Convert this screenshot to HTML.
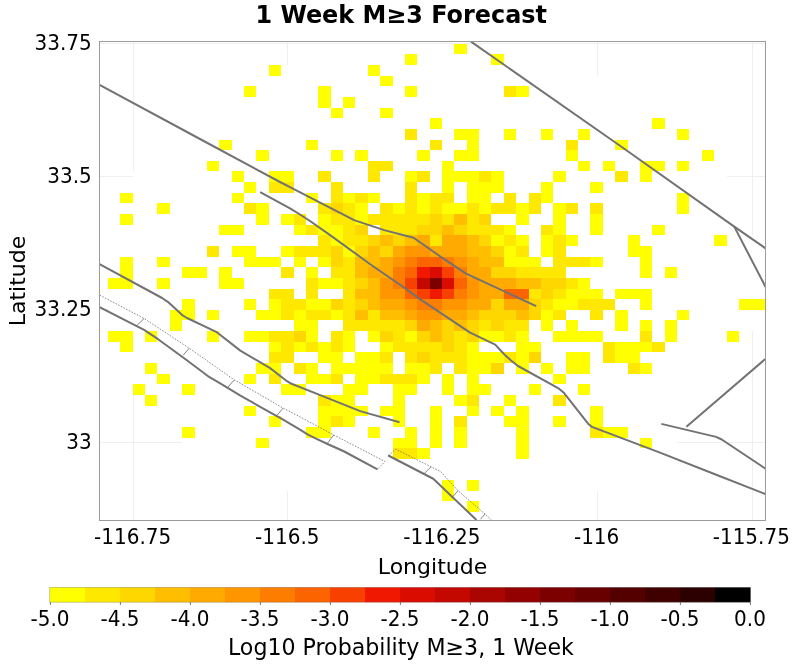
<!DOCTYPE html>
<html><head><meta charset="utf-8"><title>1 Week M≥3 Forecast</title>
<style>
html,body{margin:0;padding:0;background:#fff}
body{width:800px;height:668px;overflow:hidden;font-family:"DejaVu Sans","Liberation Sans",sans-serif}
svg{display:block}
text{font-family:"DejaVu Sans","Liberation Sans",sans-serif;fill:#000}
.tk{font-size:20px}
.ax{font-size:22px}
.ttl{font-size:23.9px;font-weight:bold}
</style></head><body>
<svg width="800" height="668" viewBox="0 0 800 668">
<rect width="800" height="668" fill="#fff"/>
<defs><clipPath id="pc"><rect x="100" y="42" width="665" height="478"/></clipPath></defs>

<g clip-path="url(#pc)">
<g stroke="#efefef" stroke-width="1" shape-rendering="crispEdges">
<line x1="133.5" y1="42" x2="133.5" y2="520"/>
<line x1="287.5" y1="42" x2="287.5" y2="520"/>
<line x1="442.5" y1="42" x2="442.5" y2="520"/>
<line x1="597.5" y1="42" x2="597.5" y2="520"/>
<line x1="752.5" y1="42" x2="752.5" y2="520"/>
<line x1="100" y1="43.5" x2="765" y2="43.5"/>
<line x1="100" y1="176.5" x2="765" y2="176.5"/>
<line x1="100" y1="309.5" x2="765" y2="309.5"/>
<line x1="100" y1="442.5" x2="765" y2="442.5"/>
</g>
<g fill="#fff" shape-rendering="crispEdges">
<rect x="355" y="44" width="161" height="10"/>
<rect x="306" y="54" width="260" height="11"/>
<rect x="281" y="65" width="309" height="11"/>
<rect x="256" y="76" width="359" height="10"/>
<rect x="232" y="86" width="408" height="11"/>
<rect x="219" y="97" width="433" height="11"/>
<rect x="195" y="108" width="470" height="10"/>
<rect x="182" y="118" width="507" height="11"/>
<rect x="170" y="129" width="519" height="11"/>
<rect x="157" y="140" width="545" height="10"/>
<rect x="157" y="150" width="557" height="11"/>
<rect x="145" y="161" width="582" height="10"/>
<rect x="133" y="171" width="594" height="11"/>
<rect x="133" y="182" width="606" height="11"/>
<rect x="120" y="193" width="619" height="10"/>
<rect x="120" y="203" width="631" height="11"/>
<rect x="120" y="214" width="631" height="11"/>
<rect x="108" y="225" width="643" height="10"/>
<rect x="108" y="235" width="656" height="11"/>
<rect x="108" y="246" width="656" height="11"/>
<rect x="108" y="257" width="656" height="10"/>
<rect x="108" y="267" width="656" height="11"/>
<rect x="108" y="278" width="656" height="11"/>
<rect x="108" y="289" width="656" height="10"/>
<rect x="108" y="299" width="656" height="11"/>
<rect x="108" y="310" width="656" height="10"/>
<rect x="108" y="320" width="656" height="11"/>
<rect x="108" y="331" width="643" height="11"/>
<rect x="120" y="342" width="631" height="10"/>
<rect x="120" y="352" width="631" height="11"/>
<rect x="133" y="363" width="606" height="11"/>
<rect x="133" y="374" width="606" height="10"/>
<rect x="145" y="384" width="582" height="11"/>
<rect x="145" y="395" width="569" height="11"/>
<rect x="157" y="406" width="557" height="10"/>
<rect x="170" y="416" width="532" height="11"/>
<rect x="182" y="427" width="507" height="11"/>
<rect x="182" y="438" width="495" height="10"/>
<rect x="207" y="448" width="445" height="11"/>
<rect x="232" y="459" width="408" height="11"/>
<rect x="244" y="470" width="371" height="10"/>
<rect x="269" y="480" width="334" height="11"/>
<rect x="306" y="491" width="260" height="10"/>
<rect x="343" y="501" width="186" height="11"/>
<rect x="393" y="512" width="98" height="11"/>
</g>
<g shape-rendering="crispEdges">
<rect x="454" y="44" width="13" height="10" fill="#FFFF00"/>
<rect x="405" y="54" width="12" height="11" fill="#FFFF00"/>
<rect x="491" y="54" width="13" height="11" fill="#FFFF00"/>
<rect x="269" y="65" width="12" height="11" fill="#FFFF00"/>
<rect x="368" y="65" width="12" height="11" fill="#FFFF00"/>
<rect x="380" y="76" width="13" height="10" fill="#FFFF00"/>
<rect x="244" y="86" width="12" height="11" fill="#FFFF00"/>
<rect x="318" y="86" width="13" height="11" fill="#FFFF00"/>
<rect x="405" y="86" width="12" height="11" fill="#FFFF00"/>
<rect x="504" y="86" width="12" height="11" fill="#FFE800"/>
<rect x="516" y="86" width="13" height="11" fill="#FFFF00"/>
<rect x="318" y="97" width="13" height="11" fill="#FFFF00"/>
<rect x="343" y="97" width="12" height="11" fill="#FFFF00"/>
<rect x="331" y="108" width="12" height="10" fill="#FFFF00"/>
<rect x="380" y="108" width="13" height="10" fill="#FFFF00"/>
<rect x="430" y="118" width="12" height="11" fill="#FFFF00"/>
<rect x="652" y="118" width="13" height="11" fill="#FFFF00"/>
<rect x="405" y="129" width="12" height="11" fill="#FFE800"/>
<rect x="454" y="129" width="25" height="11" fill="#FFFF00"/>
<rect x="504" y="129" width="12" height="11" fill="#FFFF00"/>
<rect x="541" y="129" width="12" height="11" fill="#FFFF00"/>
<rect x="578" y="129" width="12" height="11" fill="#FFFF00"/>
<rect x="677" y="129" width="12" height="11" fill="#FFFF00"/>
<rect x="219" y="140" width="13" height="10" fill="#FFFF00"/>
<rect x="306" y="140" width="12" height="10" fill="#FFFF00"/>
<rect x="430" y="140" width="12" height="10" fill="#FFE800"/>
<rect x="467" y="140" width="12" height="10" fill="#FFFF00"/>
<rect x="566" y="140" width="12" height="10" fill="#FFE800"/>
<rect x="615" y="140" width="13" height="10" fill="#FFFF00"/>
<rect x="256" y="150" width="13" height="11" fill="#FFFF00"/>
<rect x="331" y="150" width="12" height="11" fill="#FFFF00"/>
<rect x="355" y="150" width="13" height="11" fill="#FFFF00"/>
<rect x="417" y="150" width="13" height="11" fill="#FFFF00"/>
<rect x="454" y="150" width="25" height="11" fill="#FFFF00"/>
<rect x="566" y="150" width="12" height="11" fill="#FFFF00"/>
<rect x="702" y="150" width="12" height="11" fill="#FFFF00"/>
<rect x="207" y="161" width="12" height="10" fill="#FFFF00"/>
<rect x="368" y="161" width="25" height="10" fill="#FFE800"/>
<rect x="442" y="161" width="12" height="10" fill="#FFFF00"/>
<rect x="578" y="161" width="12" height="10" fill="#FFFF00"/>
<rect x="603" y="161" width="12" height="10" fill="#FFFF00"/>
<rect x="640" y="161" width="25" height="10" fill="#FFFF00"/>
<rect x="677" y="161" width="12" height="10" fill="#FFFF00"/>
<rect x="232" y="171" width="12" height="11" fill="#FFFF00"/>
<rect x="269" y="171" width="25" height="11" fill="#FFFF00"/>
<rect x="318" y="171" width="13" height="11" fill="#FFE800"/>
<rect x="368" y="171" width="12" height="11" fill="#FFE800"/>
<rect x="405" y="171" width="12" height="11" fill="#FFFF00"/>
<rect x="417" y="171" width="13" height="11" fill="#FFE800"/>
<rect x="442" y="171" width="37" height="11" fill="#FFFF00"/>
<rect x="479" y="171" width="12" height="11" fill="#FFE800"/>
<rect x="491" y="171" width="13" height="11" fill="#FFFF00"/>
<rect x="553" y="171" width="13" height="11" fill="#FFFF00"/>
<rect x="615" y="171" width="13" height="11" fill="#FFE800"/>
<rect x="640" y="171" width="12" height="11" fill="#FFFF00"/>
<rect x="244" y="182" width="12" height="11" fill="#FFFF00"/>
<rect x="269" y="182" width="25" height="11" fill="#FFE800"/>
<rect x="331" y="182" width="12" height="11" fill="#FFE800"/>
<rect x="405" y="182" width="12" height="11" fill="#FFE800"/>
<rect x="442" y="182" width="12" height="11" fill="#FFFF00"/>
<rect x="467" y="182" width="37" height="11" fill="#FFFF00"/>
<rect x="541" y="182" width="12" height="11" fill="#FFFF00"/>
<rect x="590" y="182" width="13" height="11" fill="#FFFF00"/>
<rect x="120" y="193" width="13" height="10" fill="#FFFF00"/>
<rect x="232" y="193" width="12" height="10" fill="#FFFF00"/>
<rect x="306" y="193" width="12" height="10" fill="#FFFF00"/>
<rect x="331" y="193" width="12" height="10" fill="#FFE800"/>
<rect x="343" y="193" width="12" height="10" fill="#FFFF00"/>
<rect x="355" y="193" width="13" height="10" fill="#FFE800"/>
<rect x="368" y="193" width="12" height="10" fill="#FFFF00"/>
<rect x="405" y="193" width="12" height="10" fill="#FFE800"/>
<rect x="417" y="193" width="13" height="10" fill="#FFFF00"/>
<rect x="430" y="193" width="24" height="10" fill="#FFE800"/>
<rect x="467" y="193" width="24" height="10" fill="#FFFF00"/>
<rect x="504" y="193" width="12" height="10" fill="#FFE800"/>
<rect x="529" y="193" width="12" height="10" fill="#FFE800"/>
<rect x="541" y="193" width="12" height="10" fill="#FFFF00"/>
<rect x="677" y="193" width="12" height="10" fill="#FFFF00"/>
<rect x="157" y="203" width="13" height="11" fill="#FFFF00"/>
<rect x="244" y="203" width="12" height="11" fill="#FFE800"/>
<rect x="256" y="203" width="13" height="11" fill="#FFFF00"/>
<rect x="318" y="203" width="13" height="11" fill="#FFE800"/>
<rect x="331" y="203" width="12" height="11" fill="#FFD700"/>
<rect x="343" y="203" width="12" height="11" fill="#FFE800"/>
<rect x="355" y="203" width="13" height="11" fill="#FFFF00"/>
<rect x="380" y="203" width="13" height="11" fill="#FFE800"/>
<rect x="393" y="203" width="12" height="11" fill="#FFFF00"/>
<rect x="405" y="203" width="12" height="11" fill="#FFE800"/>
<rect x="417" y="203" width="13" height="11" fill="#FFFF00"/>
<rect x="430" y="203" width="12" height="11" fill="#FFE800"/>
<rect x="442" y="203" width="25" height="11" fill="#FFFF00"/>
<rect x="467" y="203" width="12" height="11" fill="#FFE800"/>
<rect x="479" y="203" width="12" height="11" fill="#FFFF00"/>
<rect x="491" y="203" width="25" height="11" fill="#FFE800"/>
<rect x="516" y="203" width="13" height="11" fill="#FFFF00"/>
<rect x="529" y="203" width="12" height="11" fill="#FFE800"/>
<rect x="553" y="203" width="13" height="11" fill="#FFFF00"/>
<rect x="566" y="203" width="12" height="11" fill="#FFE800"/>
<rect x="590" y="203" width="13" height="11" fill="#FFE800"/>
<rect x="677" y="203" width="12" height="11" fill="#FFFF00"/>
<rect x="120" y="214" width="13" height="11" fill="#FFFF00"/>
<rect x="256" y="214" width="13" height="11" fill="#FFFF00"/>
<rect x="281" y="214" width="13" height="11" fill="#FFFF00"/>
<rect x="294" y="214" width="12" height="11" fill="#FFE800"/>
<rect x="318" y="214" width="13" height="11" fill="#FFFF00"/>
<rect x="331" y="214" width="24" height="11" fill="#FFE800"/>
<rect x="355" y="214" width="13" height="11" fill="#FFFF00"/>
<rect x="368" y="214" width="62" height="11" fill="#FFE800"/>
<rect x="430" y="214" width="12" height="11" fill="#FFD700"/>
<rect x="442" y="214" width="12" height="11" fill="#FFE800"/>
<rect x="454" y="214" width="13" height="11" fill="#FFBE00"/>
<rect x="467" y="214" width="12" height="11" fill="#FFE800"/>
<rect x="479" y="214" width="12" height="11" fill="#FFD700"/>
<rect x="516" y="214" width="13" height="11" fill="#FFFF00"/>
<rect x="553" y="214" width="13" height="11" fill="#FFFF00"/>
<rect x="590" y="214" width="13" height="11" fill="#FFFF00"/>
<rect x="219" y="225" width="25" height="10" fill="#FFFF00"/>
<rect x="294" y="225" width="12" height="10" fill="#FFFF00"/>
<rect x="306" y="225" width="12" height="10" fill="#FFE800"/>
<rect x="318" y="225" width="25" height="10" fill="#FFFF00"/>
<rect x="343" y="225" width="12" height="10" fill="#FFE800"/>
<rect x="355" y="225" width="13" height="10" fill="#FFD700"/>
<rect x="380" y="225" width="37" height="10" fill="#FFE800"/>
<rect x="417" y="225" width="25" height="10" fill="#FFD700"/>
<rect x="442" y="225" width="12" height="10" fill="#FFBE00"/>
<rect x="454" y="225" width="13" height="10" fill="#FFD700"/>
<rect x="467" y="225" width="37" height="10" fill="#FFE800"/>
<rect x="504" y="225" width="12" height="10" fill="#FFFF00"/>
<rect x="541" y="225" width="12" height="10" fill="#FFE800"/>
<rect x="553" y="225" width="13" height="10" fill="#FFFF00"/>
<rect x="590" y="225" width="13" height="10" fill="#FFFF00"/>
<rect x="652" y="225" width="13" height="10" fill="#FFFF00"/>
<rect x="318" y="235" width="13" height="11" fill="#FFE800"/>
<rect x="331" y="235" width="12" height="11" fill="#FFFF00"/>
<rect x="343" y="235" width="25" height="11" fill="#FFE800"/>
<rect x="368" y="235" width="12" height="11" fill="#FFD700"/>
<rect x="380" y="235" width="13" height="11" fill="#FFBE00"/>
<rect x="393" y="235" width="12" height="11" fill="#FFD700"/>
<rect x="405" y="235" width="12" height="11" fill="#FFBE00"/>
<rect x="417" y="235" width="13" height="11" fill="#FFAA00"/>
<rect x="430" y="235" width="12" height="11" fill="#FFE800"/>
<rect x="442" y="235" width="25" height="11" fill="#FFAA00"/>
<rect x="467" y="235" width="12" height="11" fill="#FFBE00"/>
<rect x="479" y="235" width="12" height="11" fill="#FFD700"/>
<rect x="491" y="235" width="13" height="11" fill="#FFFF00"/>
<rect x="504" y="235" width="12" height="11" fill="#FFE800"/>
<rect x="516" y="235" width="13" height="11" fill="#FFFF00"/>
<rect x="541" y="235" width="12" height="11" fill="#FFFF00"/>
<rect x="553" y="235" width="13" height="11" fill="#FFE800"/>
<rect x="566" y="235" width="12" height="11" fill="#FFFF00"/>
<rect x="628" y="235" width="12" height="11" fill="#FFFF00"/>
<rect x="714" y="235" width="13" height="11" fill="#FFFF00"/>
<rect x="207" y="246" width="12" height="11" fill="#FFE800"/>
<rect x="232" y="246" width="24" height="11" fill="#FFFF00"/>
<rect x="281" y="246" width="13" height="11" fill="#FFFF00"/>
<rect x="294" y="246" width="37" height="11" fill="#FFE800"/>
<rect x="331" y="246" width="12" height="11" fill="#FFD700"/>
<rect x="343" y="246" width="12" height="11" fill="#FFFF00"/>
<rect x="355" y="246" width="13" height="11" fill="#FFD700"/>
<rect x="368" y="246" width="12" height="11" fill="#FFBE00"/>
<rect x="380" y="246" width="13" height="11" fill="#FFD700"/>
<rect x="393" y="246" width="12" height="11" fill="#FFAA00"/>
<rect x="405" y="246" width="25" height="11" fill="#FF9600"/>
<rect x="430" y="246" width="37" height="11" fill="#FFAA00"/>
<rect x="467" y="246" width="24" height="11" fill="#FFBE00"/>
<rect x="491" y="246" width="13" height="11" fill="#FFD700"/>
<rect x="504" y="246" width="12" height="11" fill="#FFFF00"/>
<rect x="516" y="246" width="13" height="11" fill="#FFE800"/>
<rect x="541" y="246" width="12" height="11" fill="#FFFF00"/>
<rect x="553" y="246" width="13" height="11" fill="#FFE800"/>
<rect x="628" y="246" width="24" height="11" fill="#FFFF00"/>
<rect x="120" y="257" width="13" height="10" fill="#FFFF00"/>
<rect x="157" y="257" width="13" height="10" fill="#FFFF00"/>
<rect x="244" y="257" width="37" height="10" fill="#FFFF00"/>
<rect x="294" y="257" width="12" height="10" fill="#FFFF00"/>
<rect x="318" y="257" width="13" height="10" fill="#FFFF00"/>
<rect x="331" y="257" width="12" height="10" fill="#FFD700"/>
<rect x="343" y="257" width="12" height="10" fill="#FFE800"/>
<rect x="355" y="257" width="25" height="10" fill="#FFBE00"/>
<rect x="380" y="257" width="13" height="10" fill="#FFAA00"/>
<rect x="393" y="257" width="12" height="10" fill="#FF9600"/>
<rect x="405" y="257" width="12" height="10" fill="#FD7D00"/>
<rect x="417" y="257" width="25" height="10" fill="#FC6400"/>
<rect x="442" y="257" width="12" height="10" fill="#FD7D00"/>
<rect x="454" y="257" width="13" height="10" fill="#FF9600"/>
<rect x="467" y="257" width="12" height="10" fill="#FFAA00"/>
<rect x="479" y="257" width="25" height="10" fill="#FFBE00"/>
<rect x="504" y="257" width="37" height="10" fill="#FFFF00"/>
<rect x="553" y="257" width="37" height="10" fill="#FFE800"/>
<rect x="590" y="257" width="13" height="10" fill="#FFFF00"/>
<rect x="640" y="257" width="12" height="10" fill="#FFFF00"/>
<rect x="120" y="267" width="13" height="11" fill="#FFFF00"/>
<rect x="182" y="267" width="25" height="11" fill="#FFFF00"/>
<rect x="219" y="267" width="13" height="11" fill="#FFFF00"/>
<rect x="281" y="267" width="13" height="11" fill="#FFE800"/>
<rect x="306" y="267" width="12" height="11" fill="#FFFF00"/>
<rect x="331" y="267" width="24" height="11" fill="#FFE800"/>
<rect x="355" y="267" width="13" height="11" fill="#FFBE00"/>
<rect x="368" y="267" width="25" height="11" fill="#FFAA00"/>
<rect x="393" y="267" width="12" height="11" fill="#FD7D00"/>
<rect x="405" y="267" width="12" height="11" fill="#FC6400"/>
<rect x="417" y="267" width="13" height="11" fill="#F01900"/>
<rect x="430" y="267" width="12" height="11" fill="#DA0C00"/>
<rect x="442" y="267" width="12" height="11" fill="#F84100"/>
<rect x="454" y="267" width="13" height="11" fill="#FD7D00"/>
<rect x="467" y="267" width="24" height="11" fill="#FFAA00"/>
<rect x="491" y="267" width="25" height="11" fill="#FFD700"/>
<rect x="516" y="267" width="50" height="11" fill="#FFE800"/>
<rect x="640" y="267" width="12" height="11" fill="#FFFF00"/>
<rect x="665" y="267" width="12" height="11" fill="#FFFF00"/>
<rect x="108" y="278" width="25" height="11" fill="#FFFF00"/>
<rect x="157" y="278" width="13" height="11" fill="#FFFF00"/>
<rect x="219" y="278" width="25" height="11" fill="#FFFF00"/>
<rect x="306" y="278" width="12" height="11" fill="#FFE800"/>
<rect x="318" y="278" width="25" height="11" fill="#FFFF00"/>
<rect x="343" y="278" width="12" height="11" fill="#FFE800"/>
<rect x="355" y="278" width="13" height="11" fill="#FFD700"/>
<rect x="368" y="278" width="12" height="11" fill="#FFBE00"/>
<rect x="380" y="278" width="13" height="11" fill="#FF9600"/>
<rect x="393" y="278" width="12" height="11" fill="#FD7D00"/>
<rect x="405" y="278" width="12" height="11" fill="#F84100"/>
<rect x="417" y="278" width="13" height="11" fill="#C30800"/>
<rect x="430" y="278" width="12" height="11" fill="#7D0000"/>
<rect x="442" y="278" width="12" height="11" fill="#DA0C00"/>
<rect x="454" y="278" width="13" height="11" fill="#FC6400"/>
<rect x="467" y="278" width="12" height="11" fill="#FF9600"/>
<rect x="479" y="278" width="37" height="11" fill="#FFAA00"/>
<rect x="516" y="278" width="25" height="11" fill="#FFBE00"/>
<rect x="541" y="278" width="25" height="11" fill="#FFD700"/>
<rect x="566" y="278" width="12" height="11" fill="#FFE800"/>
<rect x="578" y="278" width="12" height="11" fill="#FFFF00"/>
<rect x="269" y="289" width="25" height="10" fill="#FFE800"/>
<rect x="306" y="289" width="12" height="10" fill="#FFE800"/>
<rect x="343" y="289" width="12" height="10" fill="#FFE800"/>
<rect x="355" y="289" width="25" height="10" fill="#FFBE00"/>
<rect x="380" y="289" width="25" height="10" fill="#FF9600"/>
<rect x="405" y="289" width="12" height="10" fill="#FC6400"/>
<rect x="417" y="289" width="13" height="10" fill="#F84100"/>
<rect x="430" y="289" width="12" height="10" fill="#F01900"/>
<rect x="442" y="289" width="12" height="10" fill="#F84100"/>
<rect x="454" y="289" width="13" height="10" fill="#FD7D00"/>
<rect x="467" y="289" width="12" height="10" fill="#FF9600"/>
<rect x="479" y="289" width="25" height="10" fill="#FFAA00"/>
<rect x="504" y="289" width="25" height="10" fill="#FC6400"/>
<rect x="529" y="289" width="12" height="10" fill="#FFE800"/>
<rect x="541" y="289" width="12" height="10" fill="#FFD700"/>
<rect x="553" y="289" width="13" height="10" fill="#FFE800"/>
<rect x="566" y="289" width="37" height="10" fill="#FFFF00"/>
<rect x="615" y="289" width="37" height="10" fill="#FFFF00"/>
<rect x="182" y="299" width="13" height="11" fill="#FFFF00"/>
<rect x="244" y="299" width="12" height="11" fill="#FFFF00"/>
<rect x="269" y="299" width="12" height="11" fill="#FFFF00"/>
<rect x="281" y="299" width="25" height="11" fill="#FFE800"/>
<rect x="306" y="299" width="25" height="11" fill="#FFFF00"/>
<rect x="331" y="299" width="12" height="11" fill="#FFD700"/>
<rect x="343" y="299" width="12" height="11" fill="#FFE800"/>
<rect x="355" y="299" width="13" height="11" fill="#FFD700"/>
<rect x="368" y="299" width="12" height="11" fill="#FFBE00"/>
<rect x="380" y="299" width="25" height="11" fill="#FFAA00"/>
<rect x="405" y="299" width="12" height="11" fill="#FF9600"/>
<rect x="417" y="299" width="25" height="11" fill="#FD7D00"/>
<rect x="442" y="299" width="25" height="11" fill="#FF9600"/>
<rect x="467" y="299" width="24" height="11" fill="#FFAA00"/>
<rect x="491" y="299" width="13" height="11" fill="#FFD700"/>
<rect x="504" y="299" width="25" height="11" fill="#FFAA00"/>
<rect x="529" y="299" width="12" height="11" fill="#FFD700"/>
<rect x="541" y="299" width="12" height="11" fill="#FFE800"/>
<rect x="553" y="299" width="25" height="11" fill="#FFFF00"/>
<rect x="578" y="299" width="37" height="11" fill="#FFE800"/>
<rect x="640" y="299" width="12" height="11" fill="#FFFF00"/>
<rect x="739" y="299" width="37" height="11" fill="#FFFF00"/>
<rect x="170" y="310" width="25" height="10" fill="#FFFF00"/>
<rect x="207" y="310" width="12" height="10" fill="#FFFF00"/>
<rect x="256" y="310" width="25" height="10" fill="#FFFF00"/>
<rect x="281" y="310" width="13" height="10" fill="#FFE800"/>
<rect x="294" y="310" width="12" height="10" fill="#FFFF00"/>
<rect x="306" y="310" width="25" height="10" fill="#FFE800"/>
<rect x="331" y="310" width="12" height="10" fill="#FFFF00"/>
<rect x="343" y="310" width="12" height="10" fill="#FFE800"/>
<rect x="355" y="310" width="13" height="10" fill="#FFBE00"/>
<rect x="368" y="310" width="12" height="10" fill="#FFE800"/>
<rect x="380" y="310" width="25" height="10" fill="#FFBE00"/>
<rect x="405" y="310" width="12" height="10" fill="#FFAA00"/>
<rect x="417" y="310" width="25" height="10" fill="#FF9600"/>
<rect x="442" y="310" width="25" height="10" fill="#FFAA00"/>
<rect x="467" y="310" width="12" height="10" fill="#FFBE00"/>
<rect x="479" y="310" width="37" height="10" fill="#FFD700"/>
<rect x="516" y="310" width="13" height="10" fill="#FFBE00"/>
<rect x="529" y="310" width="12" height="10" fill="#FFD700"/>
<rect x="541" y="310" width="12" height="10" fill="#FFFF00"/>
<rect x="553" y="310" width="13" height="10" fill="#FFE800"/>
<rect x="590" y="310" width="13" height="10" fill="#FFE800"/>
<rect x="615" y="310" width="13" height="10" fill="#FFFF00"/>
<rect x="677" y="310" width="12" height="10" fill="#FFFF00"/>
<rect x="170" y="320" width="12" height="11" fill="#FFFF00"/>
<rect x="294" y="320" width="24" height="11" fill="#FFFF00"/>
<rect x="343" y="320" width="62" height="11" fill="#FFE800"/>
<rect x="405" y="320" width="12" height="11" fill="#FFD700"/>
<rect x="417" y="320" width="13" height="11" fill="#FFAA00"/>
<rect x="430" y="320" width="12" height="11" fill="#FFBE00"/>
<rect x="442" y="320" width="12" height="11" fill="#FFD700"/>
<rect x="454" y="320" width="13" height="11" fill="#FFBE00"/>
<rect x="467" y="320" width="12" height="11" fill="#FFD700"/>
<rect x="479" y="320" width="12" height="11" fill="#FFE800"/>
<rect x="491" y="320" width="13" height="11" fill="#FFD700"/>
<rect x="504" y="320" width="25" height="11" fill="#FFE800"/>
<rect x="541" y="320" width="12" height="11" fill="#FFFF00"/>
<rect x="566" y="320" width="12" height="11" fill="#FFFF00"/>
<rect x="615" y="320" width="13" height="11" fill="#FFFF00"/>
<rect x="640" y="320" width="12" height="11" fill="#FFFF00"/>
<rect x="665" y="320" width="12" height="11" fill="#FFFF00"/>
<rect x="108" y="331" width="25" height="11" fill="#FFFF00"/>
<rect x="145" y="331" width="12" height="11" fill="#FFFF00"/>
<rect x="207" y="331" width="12" height="11" fill="#FFFF00"/>
<rect x="244" y="331" width="25" height="11" fill="#FFFF00"/>
<rect x="269" y="331" width="25" height="11" fill="#FFE800"/>
<rect x="294" y="331" width="12" height="11" fill="#FFD700"/>
<rect x="306" y="331" width="12" height="11" fill="#FFFF00"/>
<rect x="331" y="331" width="12" height="11" fill="#FFE800"/>
<rect x="343" y="331" width="12" height="11" fill="#FFFF00"/>
<rect x="368" y="331" width="12" height="11" fill="#FFFF00"/>
<rect x="380" y="331" width="13" height="11" fill="#FFD700"/>
<rect x="393" y="331" width="12" height="11" fill="#FFE800"/>
<rect x="405" y="331" width="12" height="11" fill="#FFFF00"/>
<rect x="417" y="331" width="13" height="11" fill="#FFD700"/>
<rect x="430" y="331" width="12" height="11" fill="#FFBE00"/>
<rect x="442" y="331" width="12" height="11" fill="#FFD700"/>
<rect x="454" y="331" width="13" height="11" fill="#FFE800"/>
<rect x="467" y="331" width="12" height="11" fill="#FFD700"/>
<rect x="479" y="331" width="25" height="11" fill="#FFFF00"/>
<rect x="504" y="331" width="12" height="11" fill="#FFE800"/>
<rect x="516" y="331" width="13" height="11" fill="#FFFF00"/>
<rect x="553" y="331" width="50" height="11" fill="#FFFF00"/>
<rect x="640" y="331" width="12" height="11" fill="#FFE800"/>
<rect x="665" y="331" width="12" height="11" fill="#FFFF00"/>
<rect x="727" y="331" width="12" height="11" fill="#FFFF00"/>
<rect x="120" y="342" width="13" height="10" fill="#FFFF00"/>
<rect x="269" y="342" width="12" height="10" fill="#FFFF00"/>
<rect x="281" y="342" width="13" height="10" fill="#FFE800"/>
<rect x="294" y="342" width="12" height="10" fill="#FFFF00"/>
<rect x="306" y="342" width="12" height="10" fill="#FFE800"/>
<rect x="318" y="342" width="13" height="10" fill="#FFFF00"/>
<rect x="331" y="342" width="12" height="10" fill="#FFE800"/>
<rect x="343" y="342" width="12" height="10" fill="#FFFF00"/>
<rect x="380" y="342" width="13" height="10" fill="#FFFF00"/>
<rect x="393" y="342" width="49" height="10" fill="#FFE800"/>
<rect x="442" y="342" width="12" height="10" fill="#FFD700"/>
<rect x="454" y="342" width="13" height="10" fill="#FFE800"/>
<rect x="467" y="342" width="12" height="10" fill="#FFFF00"/>
<rect x="516" y="342" width="25" height="10" fill="#FFFF00"/>
<rect x="603" y="342" width="12" height="10" fill="#FFE800"/>
<rect x="615" y="342" width="37" height="10" fill="#FFFF00"/>
<rect x="652" y="342" width="13" height="10" fill="#FFE800"/>
<rect x="269" y="352" width="25" height="11" fill="#FFE800"/>
<rect x="318" y="352" width="25" height="11" fill="#FFFF00"/>
<rect x="355" y="352" width="25" height="11" fill="#FFFF00"/>
<rect x="380" y="352" width="13" height="11" fill="#FFE800"/>
<rect x="405" y="352" width="12" height="11" fill="#FFE800"/>
<rect x="417" y="352" width="13" height="11" fill="#FFD700"/>
<rect x="430" y="352" width="37" height="11" fill="#FFE800"/>
<rect x="467" y="352" width="37" height="11" fill="#FFFF00"/>
<rect x="504" y="352" width="12" height="11" fill="#FFE800"/>
<rect x="516" y="352" width="13" height="11" fill="#FFFF00"/>
<rect x="529" y="352" width="12" height="11" fill="#FFD700"/>
<rect x="566" y="352" width="24" height="11" fill="#FFFF00"/>
<rect x="603" y="352" width="12" height="11" fill="#FFE800"/>
<rect x="615" y="352" width="25" height="11" fill="#FFFF00"/>
<rect x="145" y="363" width="12" height="11" fill="#FFFF00"/>
<rect x="256" y="363" width="25" height="11" fill="#FFFF00"/>
<rect x="294" y="363" width="12" height="11" fill="#FFE800"/>
<rect x="306" y="363" width="12" height="11" fill="#FFFF00"/>
<rect x="331" y="363" width="62" height="11" fill="#FFFF00"/>
<rect x="405" y="363" width="25" height="11" fill="#FFFF00"/>
<rect x="430" y="363" width="12" height="11" fill="#FFE800"/>
<rect x="454" y="363" width="13" height="11" fill="#FFE800"/>
<rect x="467" y="363" width="24" height="11" fill="#FFFF00"/>
<rect x="491" y="363" width="13" height="11" fill="#FFD700"/>
<rect x="516" y="363" width="13" height="11" fill="#FFFF00"/>
<rect x="541" y="363" width="12" height="11" fill="#FFFF00"/>
<rect x="566" y="363" width="24" height="11" fill="#FFFF00"/>
<rect x="628" y="363" width="12" height="11" fill="#FFE800"/>
<rect x="640" y="363" width="12" height="11" fill="#FFFF00"/>
<rect x="157" y="374" width="13" height="10" fill="#FFFF00"/>
<rect x="244" y="374" width="12" height="10" fill="#FFFF00"/>
<rect x="269" y="374" width="12" height="10" fill="#FFE800"/>
<rect x="306" y="374" width="25" height="10" fill="#FFFF00"/>
<rect x="331" y="374" width="12" height="10" fill="#FFE800"/>
<rect x="355" y="374" width="25" height="10" fill="#FFFF00"/>
<rect x="380" y="374" width="37" height="10" fill="#FFE800"/>
<rect x="417" y="374" width="13" height="10" fill="#FFFF00"/>
<rect x="442" y="374" width="12" height="10" fill="#FFFF00"/>
<rect x="467" y="374" width="12" height="10" fill="#FFFF00"/>
<rect x="553" y="374" width="13" height="10" fill="#FFFF00"/>
<rect x="133" y="384" width="12" height="11" fill="#FFFF00"/>
<rect x="182" y="384" width="13" height="11" fill="#FFFF00"/>
<rect x="281" y="384" width="25" height="11" fill="#FFFF00"/>
<rect x="343" y="384" width="25" height="11" fill="#FFFF00"/>
<rect x="393" y="384" width="24" height="11" fill="#FFFF00"/>
<rect x="442" y="384" width="12" height="11" fill="#FFFF00"/>
<rect x="467" y="384" width="24" height="11" fill="#FFFF00"/>
<rect x="529" y="384" width="12" height="11" fill="#FFFF00"/>
<rect x="578" y="384" width="12" height="11" fill="#FFFF00"/>
<rect x="145" y="395" width="12" height="11" fill="#FFFF00"/>
<rect x="318" y="395" width="13" height="11" fill="#FFE800"/>
<rect x="331" y="395" width="24" height="11" fill="#FFFF00"/>
<rect x="393" y="395" width="12" height="11" fill="#FFFF00"/>
<rect x="454" y="395" width="13" height="11" fill="#FFFF00"/>
<rect x="467" y="395" width="12" height="11" fill="#FFE800"/>
<rect x="504" y="395" width="12" height="11" fill="#FFFF00"/>
<rect x="553" y="395" width="13" height="11" fill="#FFE800"/>
<rect x="244" y="406" width="12" height="10" fill="#FFFF00"/>
<rect x="318" y="406" width="50" height="10" fill="#FFFF00"/>
<rect x="380" y="406" width="25" height="10" fill="#FFFF00"/>
<rect x="430" y="406" width="12" height="10" fill="#FFFF00"/>
<rect x="467" y="406" width="12" height="10" fill="#FFFF00"/>
<rect x="491" y="406" width="13" height="10" fill="#FFFF00"/>
<rect x="516" y="406" width="13" height="10" fill="#FFFF00"/>
<rect x="590" y="406" width="13" height="10" fill="#FFFF00"/>
<rect x="269" y="416" width="12" height="11" fill="#FFFF00"/>
<rect x="318" y="416" width="13" height="11" fill="#FFFF00"/>
<rect x="331" y="416" width="12" height="11" fill="#FFE800"/>
<rect x="343" y="416" width="12" height="11" fill="#FFFF00"/>
<rect x="393" y="416" width="12" height="11" fill="#FFFF00"/>
<rect x="430" y="416" width="12" height="11" fill="#FFFF00"/>
<rect x="454" y="416" width="13" height="11" fill="#FFE800"/>
<rect x="504" y="416" width="25" height="11" fill="#FFFF00"/>
<rect x="553" y="416" width="13" height="11" fill="#FFFF00"/>
<rect x="590" y="416" width="13" height="11" fill="#FFFF00"/>
<rect x="182" y="427" width="13" height="11" fill="#FFFF00"/>
<rect x="306" y="427" width="25" height="11" fill="#FFFF00"/>
<rect x="368" y="427" width="12" height="11" fill="#FFFF00"/>
<rect x="405" y="427" width="12" height="11" fill="#FFFF00"/>
<rect x="430" y="427" width="12" height="11" fill="#FFFF00"/>
<rect x="454" y="427" width="13" height="11" fill="#FFFF00"/>
<rect x="516" y="427" width="13" height="11" fill="#FFFF00"/>
<rect x="590" y="427" width="13" height="11" fill="#FFE800"/>
<rect x="603" y="427" width="25" height="11" fill="#FFFF00"/>
<rect x="256" y="438" width="13" height="10" fill="#FFFF00"/>
<rect x="393" y="438" width="24" height="10" fill="#FFFF00"/>
<rect x="430" y="438" width="12" height="10" fill="#FFFF00"/>
<rect x="454" y="438" width="13" height="10" fill="#FFFF00"/>
<rect x="516" y="438" width="13" height="10" fill="#FFFF00"/>
<rect x="640" y="438" width="12" height="10" fill="#FFFF00"/>
<rect x="393" y="448" width="24" height="11" fill="#FFE800"/>
<rect x="417" y="448" width="13" height="11" fill="#FFFF00"/>
<rect x="516" y="448" width="13" height="11" fill="#FFFF00"/>
<rect x="442" y="480" width="12" height="11" fill="#FFFF00"/>
<rect x="467" y="480" width="12" height="11" fill="#FFFF00"/>
<rect x="442" y="491" width="12" height="10" fill="#FFFF00"/>
<rect x="467" y="501" width="12" height="11" fill="#FFFF00"/>
</g>
<g fill="none" stroke="#727272" stroke-width="2" stroke-linejoin="round">
<polyline points="99.5,84.8 200,139 280,182 290,187.2 354.1,220.1 384.2,230.1 413.6,237.7 440,256.3 466.1,273.7 536.2,306.1"/>
<polyline points="260.2,192.2 290,208.4 300,214.5 310,221 330.1,235.1 370.2,264.2 402.2,286.2 420,299.1 470.1,332.6 495.2,344.6 504.2,354.2 511,360.5 518,366 558.1,388.1 564.1,393.1 588.7,424.3 592,426.9 660,452.6 714.3,474 766,494.3"/>
<polyline points="471,41.6 620,145.8 734.25,226.6 766,248.7"/>
<polyline points="734.25,226.6 766,287.7"/>
<polyline points="766,358.4 686.4,426.7"/>
<polyline points="661.35,423.9 716.1,436.9 721.7,439.5 766,469"/>
<polyline points="99.5,264.2 162.1,298 168.1,302.1 182.2,315.1 187,318 216.2,331.8 240.3,350.6 270.1,368.1 287,381.2 291.5,383.8 320.2,395.1 360.2,411.1 399.5,422.2"/>
<polyline points="99.6,307.1 144.1,329.8 158.1,339.2 186.2,359.8 208.2,376.3 220.2,383.3 240,395.3 270,412.4 280.1,417.9 300,429.6 307.5,434.4 315,438.1 327.5,444 343.75,451.25 377.5,469.4"/>
<polyline points="388.25,455.5 433.25,478.75 476.5,520"/>
</g>
<g fill="none" stroke="#5a5a5a" stroke-width="0.7" stroke-dasharray="1.6,1.4">
<polyline points="99.6,295.1 144.1,318.5 189.2,348.2 234.3,379.9 240,383.1 283.1,408.1 300,416.9 333.75,435 385,461.5 377.5,469.4"/>
<polyline points="388.25,455.5 395.75,449.2 431,466.75 440.75,471.7 458,490.75 485,514 491.5,520"/>
<polyline stroke-dasharray="none" stroke-width="0.8" stroke="#666" points="144.1,318.5 137.1,325.2"/>
<polyline stroke-dasharray="none" stroke-width="0.8" stroke="#666" points="189.2,348.2 183.2,355.2"/>
<polyline stroke-dasharray="none" stroke-width="0.8" stroke="#666" points="234.3,379.9 228,387"/>
<polyline stroke-dasharray="none" stroke-width="0.8" stroke="#666" points="283.1,408.1 277.1,415.2"/>
<polyline stroke-dasharray="none" stroke-width="0.8" stroke="#666" points="333.75,435 327.5,443.1"/>
<polyline stroke-dasharray="none" stroke-width="0.8" stroke="#666" points="431,466.75 424.25,473.5"/>
<polyline stroke-dasharray="none" stroke-width="0.8" stroke="#666" points="458,490.75 452,497.5"/>
<polyline stroke-dasharray="none" stroke-width="0.8" stroke="#666" points="485,514 480.5,519.25"/>
</g>
</g>
<rect x="99.5" y="41.5" width="666" height="479" fill="none" stroke="#9b9b9b" stroke-width="1" shape-rendering="crispEdges"/>
<text class="ttl" x="401.2" y="23.1" text-anchor="middle">1 Week M≥3 Forecast</text>
<text class="tk" transform="translate(91.8,50.4) scale(1,1.035)" text-anchor="end">33.75</text>
<text class="tk" transform="translate(91.8,183.4) scale(1,1.035)" text-anchor="end">33.5</text>
<text class="tk" transform="translate(91.8,316.4) scale(1,1.035)" text-anchor="end">33.25</text>
<text class="tk" transform="translate(91.8,449.4) scale(1,1.035)" text-anchor="end">33</text>
<text class="tk" transform="translate(132.6,544) scale(1,1.035)" text-anchor="middle">-116.75</text>
<text class="tk" transform="translate(287.3,544) scale(1,1.035)" text-anchor="middle">-116.5</text>
<text class="tk" transform="translate(441.9,544) scale(1,1.035)" text-anchor="middle">-116.25</text>
<text class="tk" transform="translate(596.6,544) scale(1,1.035)" text-anchor="middle">-116</text>
<text class="tk" transform="translate(751.3,544) scale(1,1.035)" text-anchor="middle">-115.75</text>
<text class="ax" x="432.5" y="574" text-anchor="middle">Longitude</text>
<text class="ax" transform="translate(25.3,281) rotate(-90)" text-anchor="middle">Latitude</text>
<g>
<rect x="49.75" y="587.3" width="35.55" height="15" fill="#FFFF00"/>
<rect x="85" y="587.3" width="35.30" height="15" fill="#FFE800"/>
<rect x="120" y="587.3" width="35.30" height="15" fill="#FFD700"/>
<rect x="155" y="587.3" width="35.30" height="15" fill="#FFBE00"/>
<rect x="190" y="587.3" width="35.30" height="15" fill="#FFAA00"/>
<rect x="225" y="587.3" width="35.30" height="15" fill="#FF9600"/>
<rect x="260" y="587.3" width="35.30" height="15" fill="#FD7D00"/>
<rect x="295" y="587.3" width="35.30" height="15" fill="#FC6400"/>
<rect x="330" y="587.3" width="35.30" height="15" fill="#F84100"/>
<rect x="365" y="587.3" width="35.30" height="15" fill="#F01900"/>
<rect x="400" y="587.3" width="35.30" height="15" fill="#DA0C00"/>
<rect x="435" y="587.3" width="35.30" height="15" fill="#C30800"/>
<rect x="470" y="587.3" width="35.30" height="15" fill="#AA0500"/>
<rect x="505" y="587.3" width="35.30" height="15" fill="#940200"/>
<rect x="540" y="587.3" width="35.30" height="15" fill="#7D0000"/>
<rect x="575" y="587.3" width="35.30" height="15" fill="#690000"/>
<rect x="610" y="587.3" width="35.30" height="15" fill="#550000"/>
<rect x="645" y="587.3" width="35.30" height="15" fill="#410000"/>
<rect x="680" y="587.3" width="35.30" height="15" fill="#2D0000"/>
<rect x="715" y="587.3" width="35.60" height="15" fill="#000000"/>
<rect x="49.75" y="587.45" width="700.8" height="14.7" fill="none" stroke="#666" stroke-opacity="0.55" stroke-width="0.6"/>
<g stroke="#666" stroke-width="1">
<line x1="50.4" y1="602.3" x2="50.4" y2="604.8"/>
<line x1="120.4" y1="602.3" x2="120.4" y2="604.8"/>
<line x1="190.4" y1="602.3" x2="190.4" y2="604.8"/>
<line x1="260.4" y1="602.3" x2="260.4" y2="604.8"/>
<line x1="330.4" y1="602.3" x2="330.4" y2="604.8"/>
<line x1="400.4" y1="602.3" x2="400.4" y2="604.8"/>
<line x1="470.4" y1="602.3" x2="470.4" y2="604.8"/>
<line x1="540.4" y1="602.3" x2="540.4" y2="604.8"/>
<line x1="610.4" y1="602.3" x2="610.4" y2="604.8"/>
<line x1="680.4" y1="602.3" x2="680.4" y2="604.8"/>
<line x1="750.4" y1="602.3" x2="750.4" y2="604.8"/>
</g></g>
<text class="tk" transform="translate(50,626.2) scale(1,1.035)" text-anchor="middle">-5.0</text>
<text class="tk" transform="translate(120,626.2) scale(1,1.035)" text-anchor="middle">-4.5</text>
<text class="tk" transform="translate(190,626.2) scale(1,1.035)" text-anchor="middle">-4.0</text>
<text class="tk" transform="translate(260,626.2) scale(1,1.035)" text-anchor="middle">-3.5</text>
<text class="tk" transform="translate(330,626.2) scale(1,1.035)" text-anchor="middle">-3.0</text>
<text class="tk" transform="translate(400,626.2) scale(1,1.035)" text-anchor="middle">-2.5</text>
<text class="tk" transform="translate(470,626.2) scale(1,1.035)" text-anchor="middle">-2.0</text>
<text class="tk" transform="translate(540,626.2) scale(1,1.035)" text-anchor="middle">-1.5</text>
<text class="tk" transform="translate(610,626.2) scale(1,1.035)" text-anchor="middle">-1.0</text>
<text class="tk" transform="translate(680,626.2) scale(1,1.035)" text-anchor="middle">-0.5</text>
<text class="tk" transform="translate(750,626.2) scale(1,1.035)" text-anchor="middle">0.0</text>
<text class="ax" style="font-size:22.12px" x="400.9" y="654.6" text-anchor="middle">Log10 Probability M≥3, 1 Week</text>
</svg></body></html>
